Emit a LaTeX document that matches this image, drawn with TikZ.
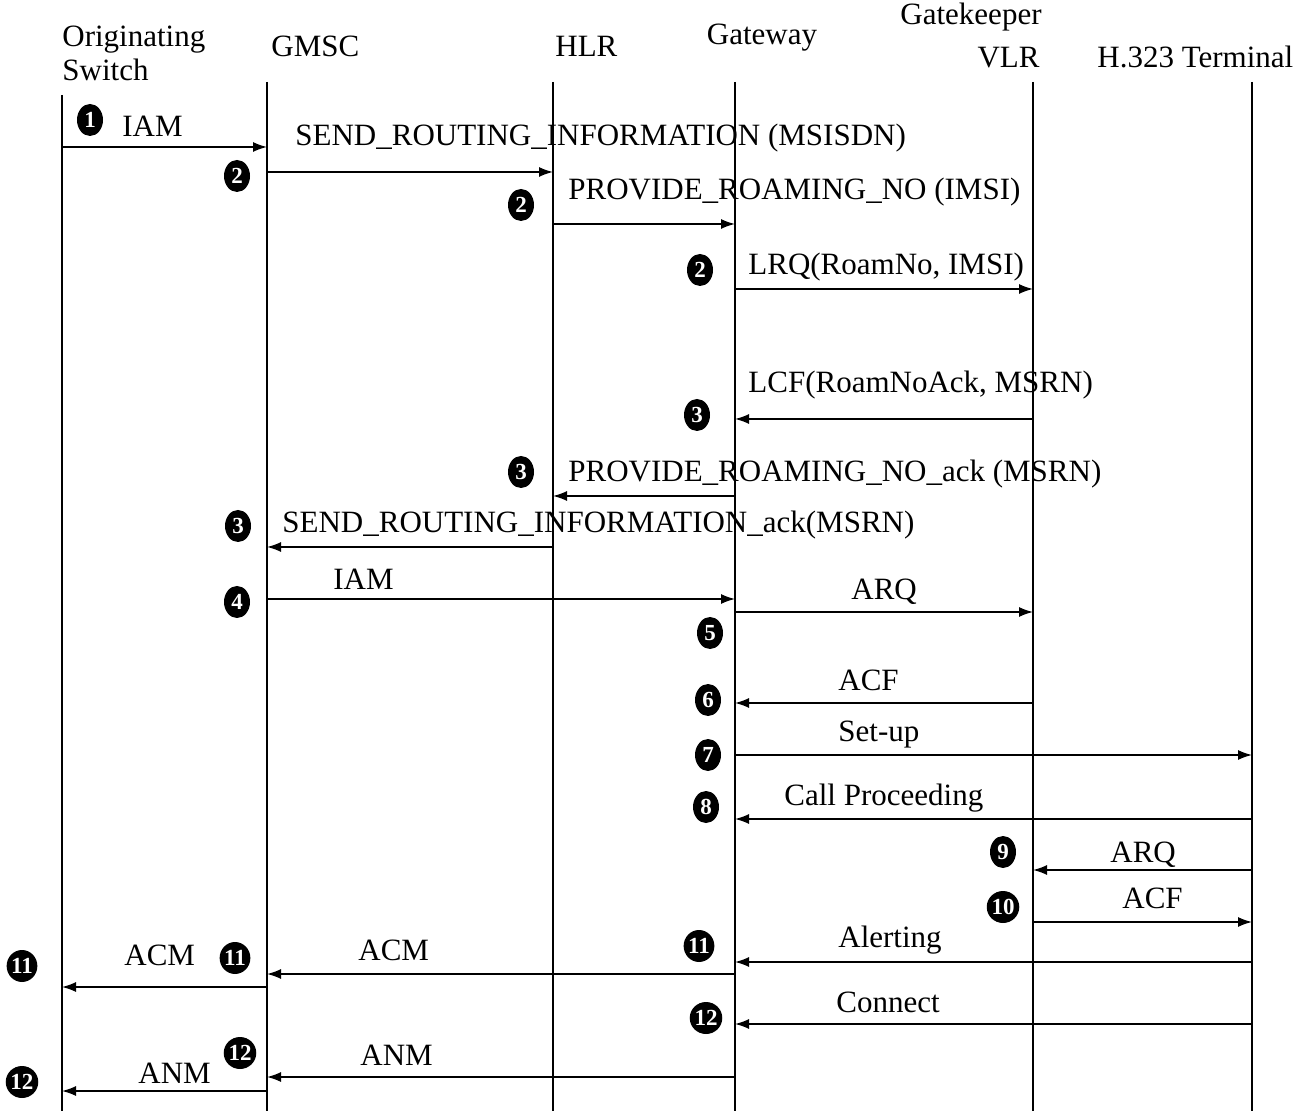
\documentclass[tikz,border=0pt]{standalone}
\usepackage{fontspec}
\setmainfont{Liberation Serif}
\usetikzlibrary{arrows.meta, positioning, shapes.geometric}

\begin{document}
\begin{tikzpicture}[x=0.5pt, y=-0.5pt,
  every node/.style={font=\fontsize{15.5}{17}\selectfont, inner sep=0pt},
  lifeline/.style={line width=0.7pt},
  msg/.style={line width=0.75pt, -{Latex[length=7pt, width=5pt]}},
  lbl/.style={anchor=base west},
  badge/.style={ellipse, fill=black, text=white, minimum width=13pt, minimum height=16pt, font=\fontsize{11.5}{12}\selectfont\bfseries}]
  \useasboundingbox (0,0) rectangle (1316,1111);

  % entity headers
  \node[anchor=north west, align=left] (hOrig) at (62,26) {Originating\\Switch};
  \node[anchor=base west] (hGmsc) at (271,57) {GMSC};
  \node[anchor=base west] (hHlr) at (555,57) {HLR};
  \node[anchor=base] (hGw) at (762,45) {Gateway};
  \node[anchor=base] (hGk) at (971,25) {Gatekeeper};
  \node[anchor=base east] (hVlr) at (1040,68) {VLR};
  \node[anchor=base west] (hTerm) at (1097,68) {H.323 Terminal};

  % lifelines
  \coordinate (orig) at (62,95);
  \coordinate (gmsc) at (267,82);
  \coordinate (hlr) at (553,82);
  \coordinate (gw) at (735,82);
  \coordinate (vlr) at (1033,82);
  \coordinate (term) at (1252,82);
  \coordinate (bot) at (0,1111);
  \foreach \l in {orig,gmsc,hlr,gw,vlr,term}
    \draw[lifeline] (\l) -- (\l |- bot);

  % routing interrogation
  \draw[msg] (orig |- 0,147) -- (gmsc |- 0,147);
  \node[lbl] (lIam) at (122,137) {IAM};
  \node[badge] (b1) at (90,120) {1};

  \draw[msg] (gmsc |- 0,172) -- (hlr |- 0,172);
  \node[lbl] (lSri) at (295,146) {SEND\_ROUTING\_INFORMATION (MSISDN)};
  \node[badge] (b2a) at (237,176) {2};

  \draw[msg] (hlr |- 0,224) -- (gw |- 0,224);
  \node[lbl] (lPrn) at (568,200) {PROVIDE\_ROAMING\_NO (IMSI)};
  \node[badge] (b2b) at (521,205) {2};

  \draw[msg] (gw |- 0,289) -- (vlr |- 0,289);
  \node[lbl] (lLrq) at (748,275) {LRQ(RoamNo, IMSI)};
  \node[badge] (b2c) at (700,270) {2};

  \draw[msg] (vlr |- 0,419) -- (gw |- 0,419);
  \node[lbl] (lLcf) at (748,393) {LCF(RoamNoAck, MSRN)};
  \node[badge] (b3a) at (697,415) {3};

  \draw[msg] (gw |- 0,496) -- (hlr |- 0,496);
  \node[lbl] (lPrnAck) at (568,482) {PROVIDE\_ROAMING\_NO\_ack (MSRN)};
  \node[badge] (b3b) at (521,472) {3};

  \draw[msg] (hlr |- 0,547) -- (gmsc |- 0,547);
  \node[lbl] (lSriAck) at (282,533) {SEND\_ROUTING\_INFORMATION\_ack(MSRN)};
  \node[badge] (b3c) at (238,526) {3};

  % call setup
  \draw[msg] (gmsc |- 0,599) -- (gw |- 0,599);
  \node[lbl] (lIam2) at (333,590) {IAM};
  \node[badge] (b4) at (237,602) {4};

  \draw[msg] (gw |- 0,612) -- (vlr |- 0,612);
  \node[lbl] (lArq) at (851,600) {ARQ};
  \node[badge] (b5) at (710,633) {5};

  \draw[msg] (vlr |- 0,703) -- (gw |- 0,703);
  \node[lbl] (lAcf) at (838,690) {ACF};
  \node[badge] (b6) at (708,700) {6};

  \draw[msg] (gw |- 0,755) -- (term |- 0,755);
  \node[lbl] (lSetup) at (838,741) {Set-up};
  \node[badge] (b7) at (708,755) {7};

  \draw[msg] (term |- 0,819) -- (gw |- 0,819);
  \node[lbl] (lProc) at (784,805) {Call Proceeding};
  \node[badge] (b8) at (706,807) {8};

  \draw[msg] (term |- 0,870) -- (vlr |- 0,870);
  \node[lbl] (lArq2) at (1110,862) {ARQ};
  \node[badge] (b9) at (1003,852) {9};

  \draw[msg] (vlr |- 0,922) -- (term |- 0,922);
  \node[lbl] (lAcf2) at (1122,908) {ACF};
  \node[badge] (b10) at (1003,907) {10};

  % alerting and answer
  \draw[msg] (term |- 0,962) -- (gw |- 0,962);
  \node[lbl] (lAlert) at (838,947) {Alerting};
  \node[badge] (b11a) at (699,946) {11};

  \draw[msg] (gw |- 0,974) -- (gmsc |- 0,974);
  \node[lbl] (lAcm) at (358,960) {ACM};
  \node[badge] (b11b) at (235,958) {11};

  \draw[msg] (gmsc |- 0,987) -- (orig |- 0,987);
  \node[lbl] (lAcm2) at (124,965) {ACM};
  \node[badge] (b11c) at (22,966) {11};

  \draw[msg] (term |- 0,1024) -- (gw |- 0,1024);
  \node[lbl] (lConn) at (836,1012) {Connect};
  \node[badge] (b12a) at (706,1018) {12};

  \draw[msg] (gw |- 0,1077) -- (gmsc |- 0,1077);
  \node[lbl] (lAnm) at (360,1065) {ANM};
  \node[badge] (b12b) at (240,1053) {12};

  \draw[msg] (gmsc |- 0,1091) -- (orig |- 0,1091);
  \node[lbl] (lAnm2) at (138,1083) {ANM};
  \node[badge] (b12c) at (22,1082) {12};
\end{tikzpicture}
\end{document}
